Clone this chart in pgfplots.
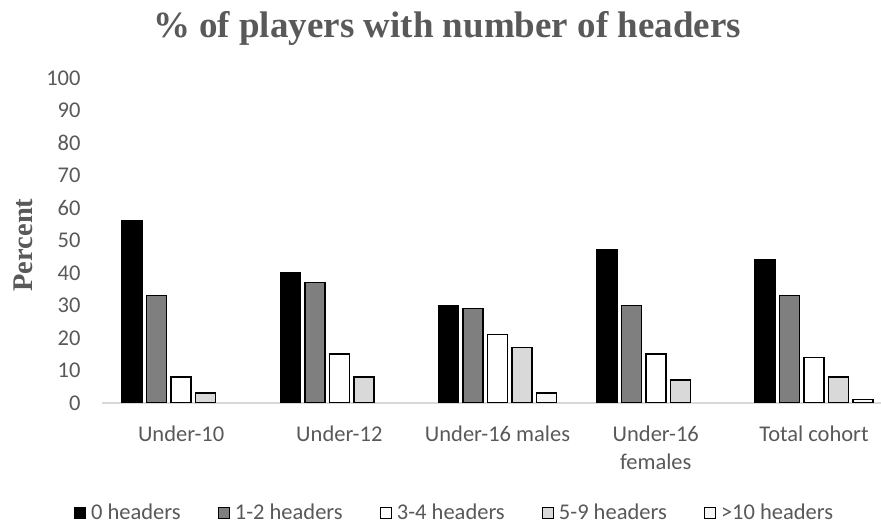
\documentclass[border=0pt]{standalone}
\usepackage{pgfplots}
\pgfplotsset{compat=1.18}
\usepackage{fontspec}
\setmainfont{Carlito}
\newfontfamily\titlefont{Liberation Serif}
\definecolor{txt}{HTML}{595959}
\definecolor{axl}{HTML}{D9D9D9}
\definecolor{gA}{HTML}{7F7F7F}
\definecolor{gB}{HTML}{D9D9D9}
\definecolor{gC}{HTML}{F7F7F7}
\begin{document}
\begin{tikzpicture}
\begin{axis}[
  at={(102bp,122bp)}, anchor=south west,
  scale only axis, width=780bp, height=325bp,
  ybar=4.5bp, bar width=20bp,
  xmin=-0.5, xmax=4.43, ymin=0, ymax=100,
  ytick={0,10,...,100},
  xtick={0,1,2,3,4},
  xticklabels={Under-10,Under-12,Under-16 males,{Under-16\\females},Total cohort},
  xticklabel style={align=center, text=txt, font=\fontsize{22.5bp}{28bp}\selectfont, yshift=-19bp},
  yticklabel style={text=txt, font=\fontsize{22.5bp}{26bp}\selectfont, xshift=-18bp},
  /pgf/number format/assume math mode=true,
  axis lines*=left,
  x axis line style={color=axl, line width=1.2bp},
  y axis line style={draw=none},
  major tick length=0pt,
  tick style={draw=none},
  ylabel={\titlefont\bfseries Percent},
  ylabel style={at={(axis description cs:-0.101,0.486)}, anchor=center, text=txt, font=\fontsize{28.5bp}{30bp}\selectfont},
  legend style={at={(0.452,-0.338)}, anchor=center, draw=none, legend columns=5,
    font=\fontsize{22.5bp}{26bp}\selectfont, text=txt,
    /tikz/every odd column/.append style={column sep=3bp},
    /tikz/every even column/.append style={column sep=35bp}},
  legend image code/.code={\draw[#1, line width=1.2bp] (0bp,-5.5bp) rectangle (11bp,5.5bp);},
  every axis plot/.append style={line width=1.5bp, draw=black},
]
\addplot[fill=black] coordinates {(0,56) (1,40) (2,30) (3,47) (4,44)};
\addplot[fill=gA] coordinates {(0,33) (1,37) (2,29) (3,30) (4,33)};
\addplot[fill=white] coordinates {(0,8) (1,15) (2,21) (3,15) (4,14)};
\addplot[fill=gB] coordinates {(0,3) (1,8) (2,17) (3,7) (4,8)};
\addplot[fill=gC] coordinates {(2,3) (4,1)};
\legend{0 headers,1-2 headers,3-4 headers,5-9 headers,>10 headers}
\end{axis}
\node[text=txt, font=\titlefont\bfseries\fontsize{37bp}{40bp}\selectfont] at (447bp,497bp) {\% of players with number of headers};
\pgfresetboundingbox
\useasboundingbox (0,0) rectangle (881bp,525bp);
\end{tikzpicture}
\end{document}
